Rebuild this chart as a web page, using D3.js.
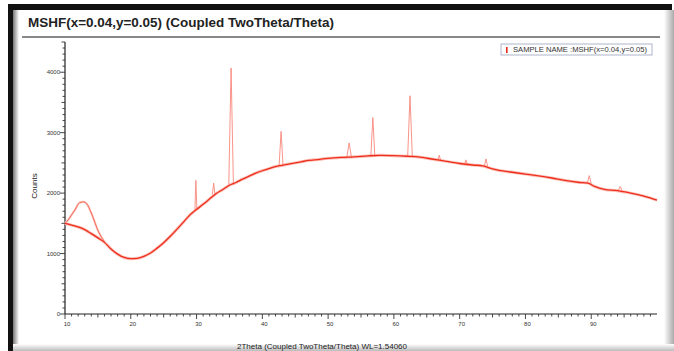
<!DOCTYPE html>
<html>
<head>
<meta charset="utf-8">
<script src="https://cdn.jsdelivr.net/npm/d3@7"></script>
<style>
body { margin: 0; background: #fff; }
text { font-family: Arial, "Liberation Sans", sans-serif; }
</style>
</head>
<body>
<div id="chart"></div>
<script>
const width = 674;
const height = 351;

// background trace (2Theta, counts)
const traceTheta = [10, 11, 12, 13, 14, 15, 16, 17, 18, 19, 20, 21, 22, 23, 24, 25, 26, 27, 28, 29,
  30, 31, 32, 33, 34, 35, 36, 37, 38, 39, 40, 41, 42, 43, 44, 45, 46, 47, 48, 50, 52, 54, 56, 58,
  60, 62, 64, 66, 68, 70, 72, 73.5, 75, 76, 78, 80, 82, 84, 86, 88, 89.5, 90.5, 92, 94, 96, 98, 100];
const traceCounts = [1500, 1470, 1440, 1395, 1330, 1260, 1185, 1075, 990, 935, 915, 922, 955, 1010, 1090, 1180, 1285, 1400, 1520, 1640,
  1730, 1815, 1905, 1995, 2060, 2130, 2175, 2230, 2280, 2330, 2370, 2405, 2440, 2460, 2480, 2500, 2520, 2540, 2550, 2575, 2590, 2600, 2615, 2625,
  2620, 2610, 2595, 2560, 2525, 2490, 2465, 2450, 2400, 2375, 2345, 2315, 2285, 2250, 2210, 2180, 2165, 2110, 2060, 2040, 2000, 1950, 1885];

// upper hump at low angle
const humpTheta = [10, 10.5, 11, 11.5, 12.2, 12.8, 13.3, 14, 15.1, 16];
const humpCounts = [1500, 1560, 1640, 1720, 1840, 1855, 1825, 1670, 1360, 1195];

// peaks: position, base, top, half width (deg)
const peakPos = [29.9, 32.6, 35.25, 42.85, 53.2, 56.8, 62.45, 66.9, 70.95, 74.0, 89.7, 94.4];
const peakBase = [1720, 1975, 2140, 2450, 2595, 2615, 2612, 2545, 2480, 2445, 2160, 2040];
const peakTop = [2210, 2165, 4070, 3020, 2830, 3250, 3610, 2625, 2550, 2565, 2290, 2110];
const peakHalf = [0.15, 0.2, 0.35, 0.3, 0.35, 0.3, 0.35, 0.2, 0.2, 0.25, 0.3, 0.3];

const xTicks = [10, 20, 30, 40, 50, 60, 70, 80, 90];
const yTicks = [0, 1000, 2000, 3000, 4000];

const svg = d3.select('#chart').append('svg').attr('width', width).attr('height', height);

// frame
const defs = svg.append('defs');
const gl = defs.append('linearGradient').attr('id', 'gl');
gl.append('stop').attr('offset', '0%').attr('stop-color', '#777');
gl.append('stop').attr('offset', '100%').attr('stop-color', '#fff');
const gr = defs.append('linearGradient').attr('id', 'gr');
gr.append('stop').attr('offset', '0%').attr('stop-color', '#fff');
gr.append('stop').attr('offset', '100%').attr('stop-color', '#aaa');
const gb = defs.append('linearGradient').attr('id', 'gb').attr('x2', 0).attr('y2', 1);
gb.append('stop').attr('offset', '0%').attr('stop-color', '#fff');
gb.append('stop').attr('offset', '100%').attr('stop-color', '#bbb');

svg.append('rect').attr('x', 13).attr('y', 10).attr('width', 6).attr('height', 341).attr('fill', 'url(#gl)');
svg.append('rect').attr('x', 664).attr('y', 10).attr('width', 10).attr('height', 341).attr('fill', 'url(#gr)');
svg.append('rect').attr('x', 13).attr('y', 344).attr('width', 661).attr('height', 7).attr('fill', 'url(#gb)');
svg.append('rect').attr('x', 8).attr('y', 5).attr('width', 5).attr('height', 346).attr('fill', '#111');
svg.append('rect').attr('x', 8).attr('y', 4).attr('width', 664).attr('height', 6).attr('fill', '#111');

// title
svg.append('text').attr('x', 28).attr('y', 27)
  .attr('font-size', 13.5).attr('font-weight', 'bold').attr('fill', '#222')
  .attr('textLength', 306).attr('lengthAdjust', 'spacingAndGlyphs')
  .text('MSHF(x=0.04,y=0.05) (Coupled TwoTheta/Theta)');
svg.append('line').attr('x1', 22).attr('x2', 660).attr('y1', 37).attr('y2', 37)
  .attr('stroke', '#888').attr('stroke-width', 2);

// scales
const x = d3.scaleLinear().domain([10, 100]).range([65, 657]);
const y = d3.scaleLinear().domain([0, 4500]).range([314, 42]);

// axes
const xAxis = svg.append('g').attr('transform', 'translate(0,314)');
xAxis.append('line').attr('x1', x(10)).attr('x2', x(100)).attr('stroke', '#222').attr('stroke-width', 1.2);
xAxis.selectAll('.xt').data(d3.range(10, 100, 1)).enter().append('line')
  .attr('x1', d => x(d)).attr('x2', d => x(d)).attr('y1', 0)
  .attr('y2', d => d % 10 === 0 ? 5 : (d % 5 === 0 ? 3.5 : 2.5))
  .attr('stroke', '#333').attr('stroke-width', 0.9);
xAxis.selectAll('.xl').data(xTicks).enter().append('text')
  .attr('x', d => x(d) + 2).attr('y', 12).attr('text-anchor', 'middle')
  .attr('font-size', 6).attr('fill', '#333').text(d => d);

const yAxis = svg.append('g').attr('transform', 'translate(65,0)');
yAxis.append('line').attr('y1', y(0)).attr('y2', y(4500)).attr('stroke', '#222').attr('stroke-width', 1.2);
yAxis.selectAll('.yt').data(d3.range(0, 4600, 100)).enter().append('line')
  .attr('y1', d => y(d)).attr('y2', d => y(d)).attr('x1', 0)
  .attr('x2', d => d % 1000 === 0 ? -5 : (d % 500 === 0 ? -3.5 : -2.5))
  .attr('stroke', '#333').attr('stroke-width', 0.9);
yAxis.selectAll('.yl').data(yTicks).enter().append('text')
  .attr('x', -5).attr('y', d => y(d) + 2).attr('text-anchor', 'end')
  .attr('font-size', 6).attr('fill', '#333').text(d => d);

svg.append('text').attr('transform', 'translate(37,186) rotate(-90)')
  .attr('text-anchor', 'middle').attr('font-size', 8).attr('fill', '#222').text('Counts');
svg.append('text').attr('x', 322).attr('y', 349).attr('text-anchor', 'middle')
  .attr('font-size', 8).attr('fill', '#222').text('2Theta (Coupled TwoTheta/Theta) WL=1.54060');

// data lines
const line = d3.line().x(d => x(d[0])).y(d => y(d[1]));
const trace = traceTheta.map((t, i) => [t, traceCounts[i]]);
const hump = humpTheta.map((t, i) => [t, humpCounts[i]]);

svg.append('path').datum(trace).attr('d', line.curve(d3.curveMonotoneX))
  .attr('fill', 'none').attr('stroke', '#fbc0b8').attr('stroke-width', 3);
svg.append('path').datum(hump).attr('d', line.curve(d3.curveMonotoneX))
  .attr('fill', 'none').attr('stroke', '#fbc8c0').attr('stroke-width', 2.2);

peakPos.forEach((p, i) => {
  const pts = [[p - peakHalf[i], peakBase[i]], [p, peakTop[i]], [p + peakHalf[i], peakBase[i]]];
  svg.append('path').datum(pts).attr('d', line.curve(d3.curveLinear))
    .attr('fill', 'none').attr('stroke', '#f8887c').attr('stroke-width', 0.9);
});

svg.append('path').datum(trace).attr('d', line.curve(d3.curveMonotoneX))
  .attr('fill', 'none').attr('stroke', '#ee2f1d').attr('stroke-width', 1.3);
svg.append('path').datum(hump).attr('d', line.curve(d3.curveMonotoneX))
  .attr('fill', 'none').attr('stroke', '#f4604f').attr('stroke-width', 0.9);

// legend
const lg = svg.append('g').attr('transform', 'translate(501,44)');
lg.append('rect').attr('width', 151).attr('height', 11).attr('fill', '#fff')
  .attr('stroke', '#9aa3bd').attr('stroke-width', 0.8);
lg.append('rect').attr('x', 5).attr('y', 3).attr('width', 1.6).attr('height', 6).attr('fill', '#e8281a');
lg.append('text').attr('x', 12).attr('y', 8).attr('font-size', 6.8).attr('fill', '#333')
  .attr('textLength', 134).attr('lengthAdjust', 'spacingAndGlyphs')
  .text('SAMPLE NAME :MSHF(x=0.04,y=0.05)');
</script>
</body>
</html>
